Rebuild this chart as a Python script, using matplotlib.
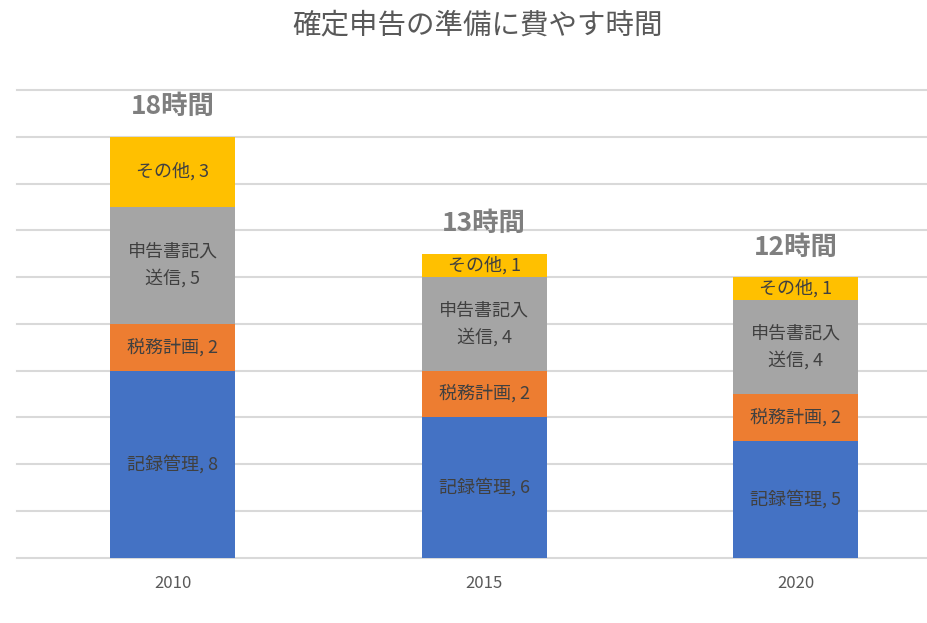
import matplotlib
matplotlib.use("Agg")
import matplotlib.pyplot as plt
import numpy as np

plt.rcParams['font.family'] = ['Noto Sans CJK JP', 'DejaVu Sans']

years = ["2010", "2015", "2020"]
series_names = ["記録管理", "税務計画", "申告書記入\n送信", "その他"]
records = [8, 6, 5]
planning = [2, 2, 2]
filing = [5, 4, 4]
other = [3, 1, 1]
totals_label = ["18時間", "13時間", "12時間"]
colors = ["#4472C4", "#ED7D31", "#A5A5A5", "#FFC000"]

W, H = 927, 623
fig = plt.figure(figsize=(W / 100, H / 100), dpi=100)
left = 17 / W
bottom = (H - 557.5) / H
top = (H - 90) / H
ax = fig.add_axes([left, bottom, 1 - left, top - bottom])

x = np.arange(len(years))
series = [records, planning, filing, other]
base = np.zeros(len(years))
for name, vals, c in zip(series_names, series, colors):
    vals = np.array(vals, dtype=float)
    ax.bar(x, vals, width=0.4, bottom=base, color=c, zorder=3)
    for xi, b, v in zip(x, base, vals):
        ax.text(xi, b + v / 2, f"{name}, {int(v)}", ha="center", va="center",
                fontsize=13, color="#404040", linespacing=1.55, zorder=4)
    base = base + vals

for xi, t, lab in zip(x, base, totals_label):
    ax.text(xi, t + 30 / 23.375, lab, ha="center", va="center",
            fontsize=19, fontweight="bold", color="#7F7F7F", zorder=4)

ax.set_ylim(0, 20)
ax.set_xlim(-0.5, -0.5 + (W - 17) / 311.5)
for yv in np.arange(0, 21, 2):
    ax.axhline(yv, color="#D9D9D9", linewidth=1.5, zorder=0, clip_on=False)
ax.tick_params(axis="y", left=False, labelleft=False)
ax.set_yticks([])
ax.tick_params(axis="x", bottom=False, labelsize=12, labelcolor="#595959", pad=9)
ax.set_xticks(x)
ax.set_xticklabels(years)
for s in ax.spines.values():
    s.set_visible(False)

fig.text(478 / W, 1 - 25 / H, "確定申告の準備に費やす時間", ha="center", va="center",
         fontsize=20.5, color="#595959")

fig.savefig("out.png", dpi=100)
